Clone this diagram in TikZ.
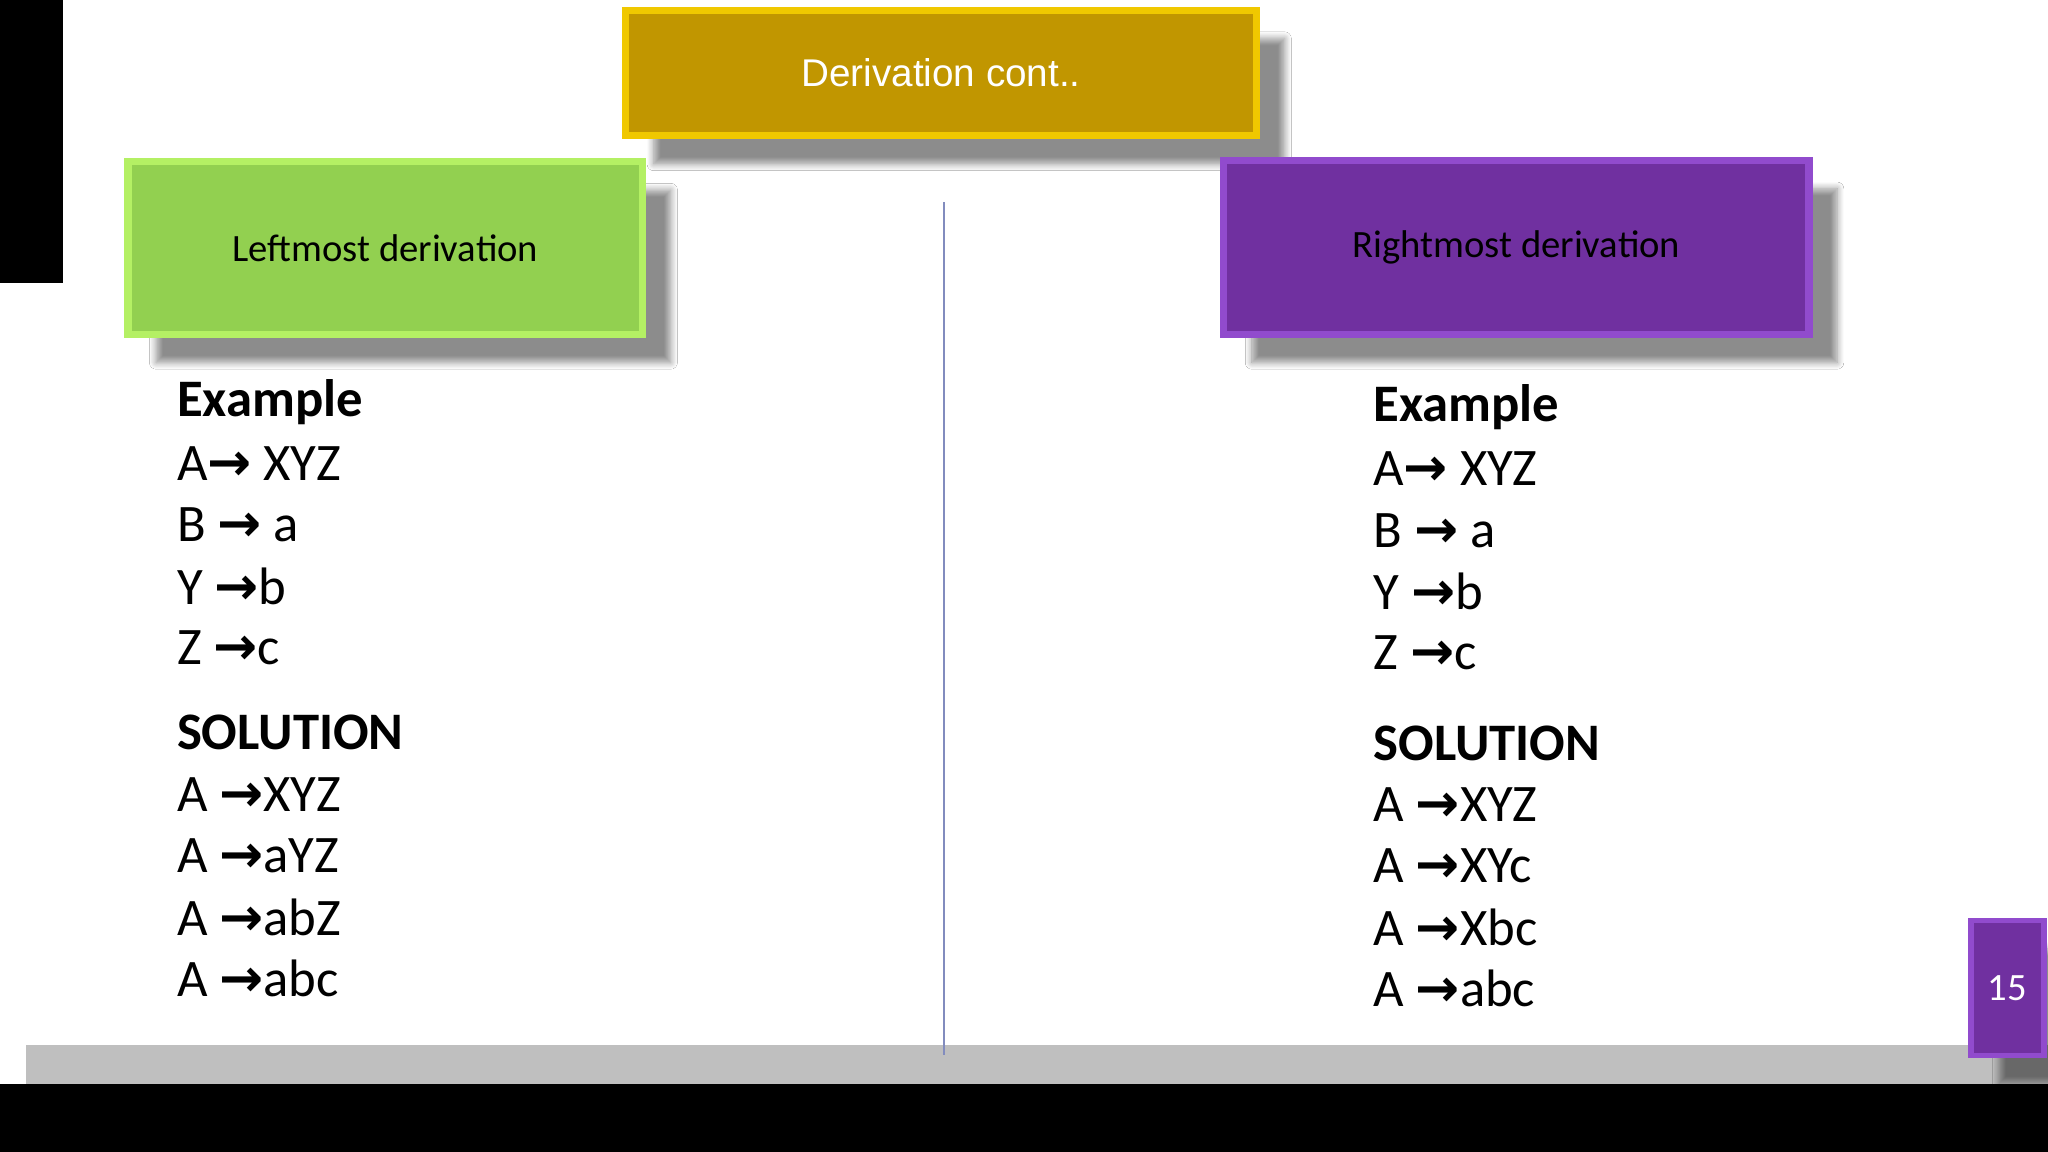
\documentclass[tikz,border=0pt]{standalone}
\usepackage{fontspec}
\setmainfont{Carlito}
\newfontfamily\arial{Liberation Sans}
\newfontfamily\djvfont{DejaVu Sans}
\usetikzlibrary{shadows.blur}
\newcommand{\myar}{{\djvfont\bfseries →}}
\definecolor{goldf}{RGB}{193,150,0}
\definecolor{goldd}{RGB}{240,200,0}
\definecolor{greenf}{RGB}{146,208,80}
\definecolor{greend}{RGB}{180,240,100}
\definecolor{purf}{RGB}{112,48,160}
\definecolor{purd}{RGB}{145,75,205}
\definecolor{linec}{RGB}{130,140,190}
\begin{document}
\begin{tikzpicture}[x=0.013061cm,y=-0.013061cm,
  bx/.style={blur shadow={shadow xshift=8pt,shadow yshift=-8pt,shadow blur steps=8,shadow opacity=45}},
  txt/.style={anchor=west,font=\fontsize{15}{18}\selectfont,inner sep=0pt},
  hd/.style={txt,font=\fontsize{15}{18}\selectfont\bfseries}]
\useasboundingbox (0,0) rectangle (1568,882);
\fill[white] (0,0) rectangle (1568,882);
\fill[black] (0,0) rectangle (48,217);
\fill[black!25] (20,800) rectangle (1568,830);
\fill[black] (0,830) rectangle (1568,882);
\node[bx,fill=goldf,draw=goldd,line width=2pt,minimum width={483*0.013061cm},minimum height={96*0.013061cm},text=white,font=\arial\fontsize{11}{13}\selectfont] (gold) at (720.5,56) {Derivation cont..};
\node[bx,fill=greenf,draw=greend,line width=2pt,minimum width={394*0.013061cm},minimum height={132*0.013061cm},font=\fontsize{11}{13}\selectfont] (left) at (295,190) {Leftmost derivation};
\node[bx,fill=purf,draw=purd,line width=2pt,minimum width={448*0.013061cm},minimum height={133*0.013061cm},font=\fontsize{11}{13}\selectfont] (right) at (1161,189.5) {Rightmost derivation};
\coordinate (lt) at (723,155); \coordinate (lb) at (723,808);
\draw[linec,line width=0.6pt] (lt) -- (lb);
\node[bx,fill=purf,draw=purd,line width=1.5pt,minimum width={56*0.013061cm},minimum height={103*0.013061cm},text=white,font=\fontsize{11}{13}\selectfont] (pg) at (1537,756.5) {15};
% left text
\node[hd] (l0) at (135,308) {Example};
\node[txt] (l1) at (135,355) {A\myar\ XYZ};
\node[txt] (l2) at (135,402) {B \myar\ a};
\node[txt] (l3) at (135,449) {Y \myar b};
\node[txt] (l4) at (135,496) {Z \myar c};
\node[hd] (l5) at (135,561) {SOLUTION};
\node[txt] (l6) at (135,608) {A \myar XYZ};
\node[txt] (l7) at (135,655) {A \myar aYZ};
\node[txt] (l8) at (135,702) {A \myar abZ};
\node[txt] (l9) at (135,749) {A \myar abc};
% right text
\node[hd] (r0) at (1051,312) {Example};
\node[txt] (r1) at (1051,359) {A\myar\ XYZ};
\node[txt] (r2) at (1051,406) {B \myar\ a};
\node[txt] (r3) at (1051,453) {Y \myar b};
\node[txt] (r4) at (1051,500) {Z \myar c};
\node[hd] (r5) at (1051,569) {SOLUTION};
\node[txt] (r6) at (1051,616) {A \myar XYZ};
\node[txt] (r7) at (1051,663) {A \myar XYc};
\node[txt] (r8) at (1051,710) {A \myar Xbc};
\node[txt] (r9) at (1051,757) {A \myar abc};
\end{tikzpicture}
\end{document}
